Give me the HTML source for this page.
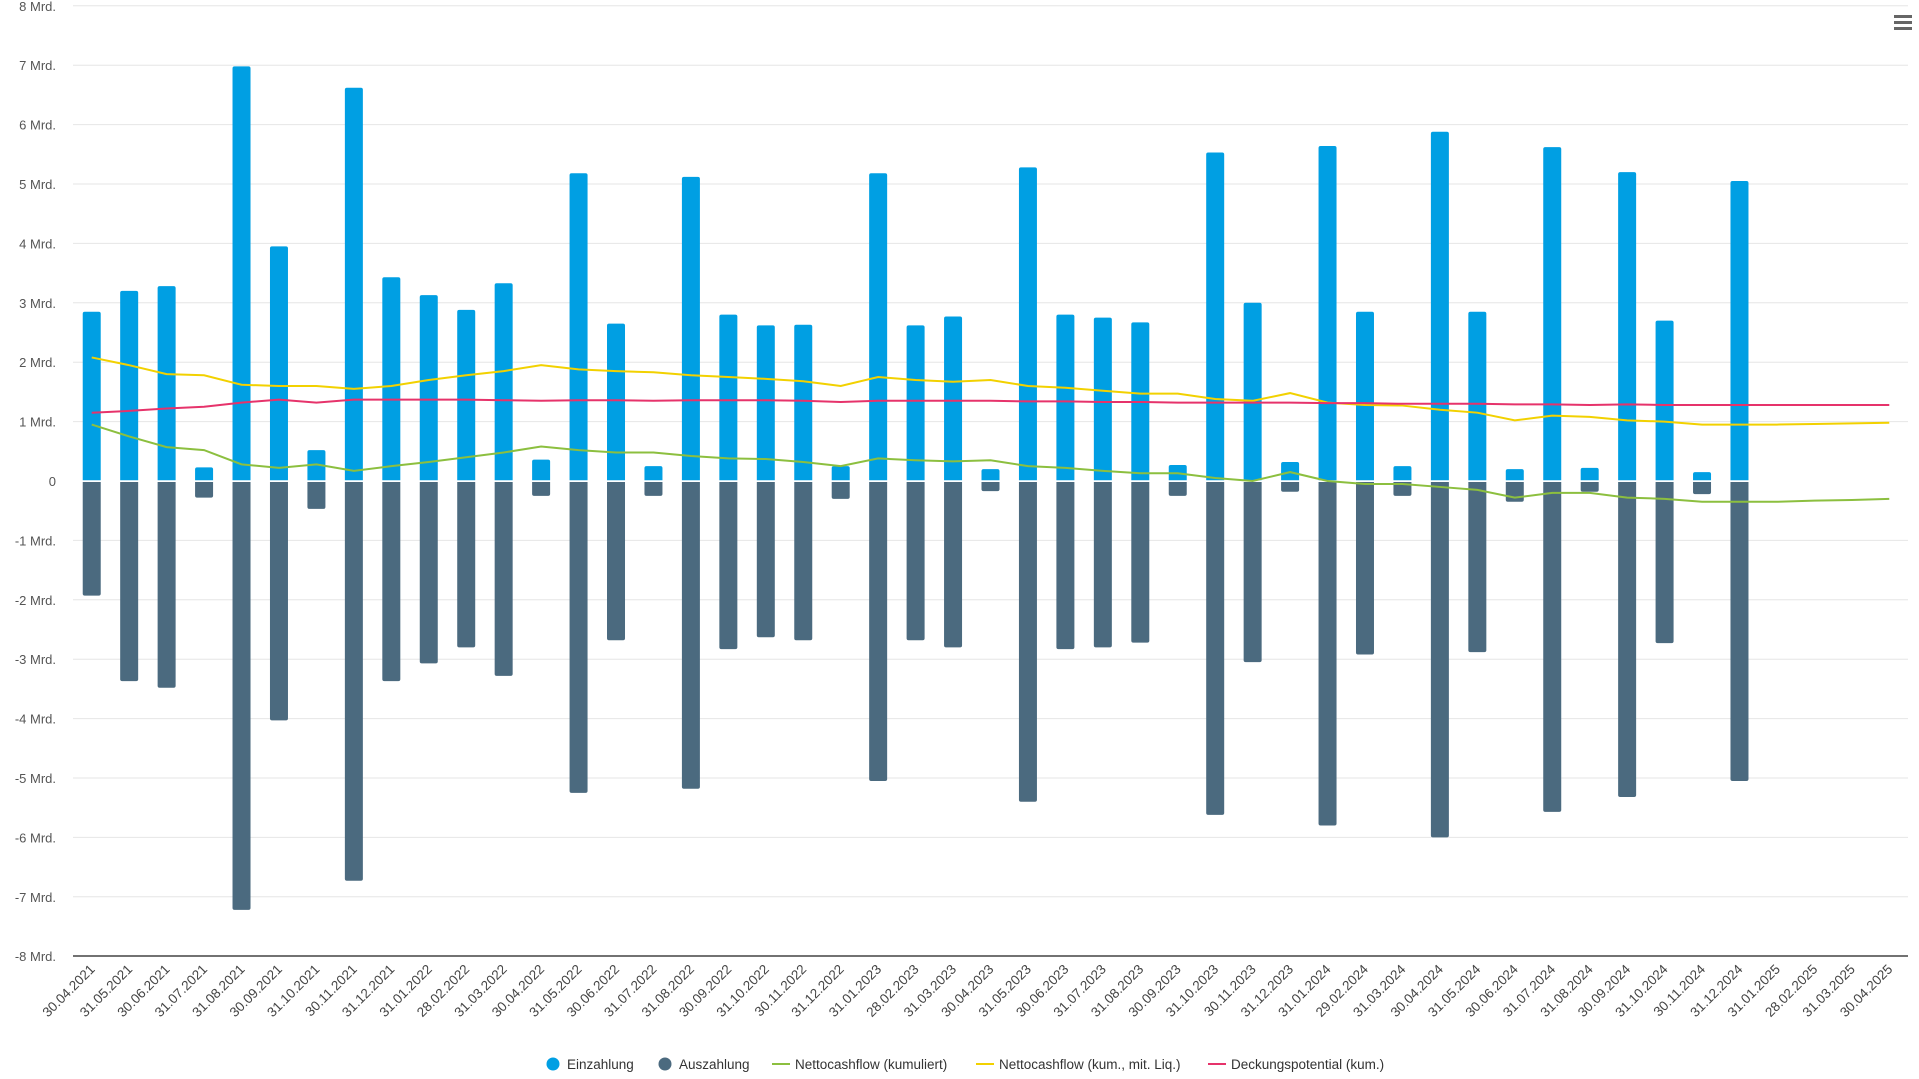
<!DOCTYPE html>
<html><head><meta charset="utf-8"><style>
html,body{margin:0;padding:0;background:#fff;}
svg{display:block;font-family:"Liberation Sans",sans-serif;}
</style></head><body>
<svg id="c" width="1919" height="1079" xmlns="http://www.w3.org/2000/svg"></svg>
<script>
const pos=[2.85,3.2,3.28,0.23,6.98,3.95,0.52,6.62,3.43,3.13,2.88,3.33,0.36,5.18,2.65,0.25,5.12,2.8,2.62,2.63,0.25,5.18,2.62,2.77,0.2,5.28,2.8,2.75,2.67,0.27,5.53,3.0,0.32,5.64,2.85,0.25,5.88,2.85,0.2,5.62,0.22,5.2,2.7,0.15,5.05];
const neg=[1.93,3.37,3.48,0.28,7.22,4.03,0.47,6.73,3.37,3.07,2.8,3.28,0.25,5.25,2.68,0.25,5.18,2.83,2.63,2.68,0.3,5.05,2.68,2.8,0.17,5.4,2.83,2.8,2.72,0.25,5.62,3.05,0.18,5.8,2.92,0.25,6.0,2.88,0.35,5.57,0.18,5.32,2.73,0.22,5.05];
const g=[0.95,0.75,0.57,0.52,0.28,0.22,0.28,0.17,0.25,0.32,0.4,0.48,0.58,0.52,0.48,0.48,0.42,0.38,0.37,0.32,0.25,0.38,0.35,0.33,0.35,0.25,0.22,0.17,0.13,0.13,0.05,0,0.15,0,-0.05,-0.05,-0.1,-0.15,-0.28,-0.2,-0.2,-0.28,-0.3,-0.35,-0.35,-0.35,-0.33,-0.32,-0.3];
const yl=[2.08,1.95,1.8,1.78,1.62,1.6,1.6,1.55,1.6,1.7,1.78,1.85,1.95,1.88,1.85,1.83,1.78,1.75,1.72,1.68,1.6,1.75,1.7,1.67,1.7,1.6,1.57,1.52,1.47,1.47,1.38,1.35,1.48,1.32,1.28,1.27,1.2,1.15,1.02,1.1,1.08,1.02,1.0,0.95,0.95,0.95,0.96,0.97,0.98];
const rd=[1.15,1.18,1.22,1.25,1.32,1.37,1.32,1.37,1.37,1.37,1.37,1.36,1.35,1.36,1.36,1.35,1.36,1.36,1.36,1.35,1.33,1.35,1.35,1.35,1.35,1.34,1.34,1.33,1.33,1.32,1.32,1.32,1.32,1.31,1.31,1.3,1.3,1.3,1.29,1.29,1.28,1.29,1.28,1.28,1.28,1.28,1.28,1.28,1.28];
const labs=[];const mons=["31.01","28.02","31.03","30.04","31.05","30.06","31.07","31.08","30.09","31.10","30.11","31.12"];
for(let i=0;i<49;i++){const m=(3+i)%12,y=2021+Math.floor((3+i)/12);let d=mons[m];if(m==1)d=(y==2024?"29":"28")+".02";labs.push(d+"."+y);}
const L=73,R=1908,Z=481,U=59.4,N=49,st=(R-L)/N;
const cx=i=>L+st*(i+0.5), Y=v=>Z-v*U;
let s="";
for(let k=-7;k<=8;k++){s+=`<line x1="${L}" x2="${R}" y1="${Y(k)}" y2="${Y(k)}" stroke="#e6e6e6"/>`;
 s+=`<text x="56" y="${Y(k)+5}" text-anchor="end" font-size="13" fill="#555">${k==0?"0":k+" Mrd."}</text>`;}
s+=`<text x="56" y="${Y(-8)+5}" text-anchor="end" font-size="13" fill="#555">-8 Mrd.</text>`;
const bw=18;
for(let i=0;i<pos.length;i++){const x=cx(i)-bw/2;
 s+=`<path d="M${x},${Z} V${Y(pos[i])+2} q0,-2 2,-2 h${bw-4} q2,0 2,2 V${Z}Z" fill="#009fe3"/>`;
 s+=`<path d="M${x},${Z+1} V${Y(-neg[i])-2} q0,2 2,2 h${bw-4} q2,0 2,-2 V${Z+1}Z" fill="#4b6a7f"/>`;}
s+=`<line x1="${L}" x2="${R}" y1="${Z}" y2="${Z}" stroke="#fff" stroke-width="1.5"/>`;
const pl=(a,c)=>`<polyline fill="none" stroke="${c}" stroke-width="2" points="${a.map((v,i)=>cx(i)+","+Y(v)).join(" ")}"/>`;
s+=pl(g,"#8cbf3f")+pl(yl,"#f2d100")+pl(rd,"#e6336b");
s+=`<line x1="${L}" x2="${R}" y1="956" y2="956" stroke="#444" stroke-width="1.5"/>`;
for(let i=0;i<N;i++){const x=cx(i)+4,y=970;s+=`<text transform="translate(${x},${y}) rotate(-45)" text-anchor="end" font-size="13.5" fill="#444">${labs[i]}</text>`;}
const leg=[["c","#009fe3","Einzahlung",553],["c","#4b6a7f","Auszahlung",665],["l","#8cbf3f","Nettocashflow (kumuliert)",781],["l","#f2d100","Nettocashflow (kum., mit. Liq.)",985],["l","#e6336b","Deckungspotential (kum.)",1217]];
for(const [t,c,n,x] of leg){ if(t=="c")s+=`<circle cx="${x}" cy="1064" r="6.5" fill="${c}"/>`;else s+=`<line x1="${x-9}" x2="${x+9}" y1="1064" y2="1064" stroke="${c}" stroke-width="2"/>`;
 s+=`<text x="${x+14}" y="1069" font-size="13.5" fill="#333">${n}</text>`;}
for(let k=0;k<3;k++)s+=`<rect x="1894" y="${15+k*6}" width="18" height="3" fill="#666"/>`;
document.getElementById("c").innerHTML=s;
</script>
</body></html>
